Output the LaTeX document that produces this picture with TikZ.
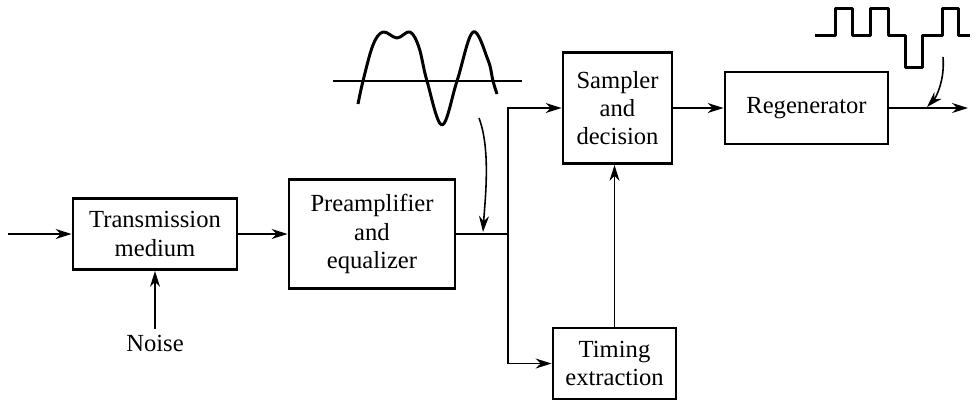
\documentclass[tikz,border=0pt]{standalone}
\usepackage{fontspec}
\setmainfont{Liberation Serif}
\usetikzlibrary{arrows.meta}

\begin{document}
\begin{tikzpicture}[
    block/.style={draw, line width=1.6pt, align=center, inner sep=2pt,
                  font=\fontsize{14}{16}\selectfont},
    link/.style={line width=0.9pt, -{Stealth[length=3.2mm, width=2mm]}},
    wave/.style={line width=1.7pt, line join=round},
    lbl/.style={font=\fontsize{14}{16}\selectfont}
]

\useasboundingbox (0,0) rectangle (19.46,-8.04);

% Blocks
\node[block, minimum width=3.28cm, minimum height=1.42cm] (medium) at (3.10,-4.68) {Transmission\\medium};
\node[block, minimum width=3.32cm, minimum height=2.18cm] (preamp) at (7.44,-4.68) {Preamplifier\\and\\equalizer};
\node[block, minimum width=2.18cm, minimum height=2.22cm] (sampler) at (12.35,-2.16) {Sampler\\and\\decision};
\node[block, minimum width=3.26cm, minimum height=1.44cm] (regen) at (16.13,-2.16) {Regenerator};
\node[block, minimum width=2.46cm, minimum height=1.42cm] (timing) at (12.29,-7.27) {Timing\\extraction};

% Noise
\node[lbl] (noise) at (3.10,-6.86) {Noise};

% Free ends
\coordinate (input) at (0.16,-4.68);
\coordinate (split) at (10.16,-4.68);
\coordinate (output) at (19.36,-2.16);

% Connectors
\draw[link] (input) -- (medium);
\draw[link] (noise.north) -- (medium.south);
\draw[link] (medium) -- (preamp);
\draw[line width=0.9pt] (preamp.east) -- (split);
\draw[link] (split) |- (sampler.west);
\draw[link] (split) |- (timing.west);
\draw[link] (timing.north) -- (timing.north |- sampler.south);
\draw[link] (sampler.east) -- (regen.west |- sampler.east);
\draw[link] (regen.east) -- (output);

% Received waveform
\draw[line width=0.9pt] (6.66,-1.62) -- (10.44,-1.62);
\draw[wave] plot[smooth, tension=0.6] coordinates {
    (7.16,-2.08) (7.26,-1.62) (7.46,-0.90) (7.66,-0.64) (7.94,-0.76)
    (8.20,-0.64) (8.38,-0.95) (8.54,-1.62) (8.84,-2.50) (9.14,-1.62)
    (9.46,-0.64) (9.76,-1.20) (9.86,-1.62) (9.94,-1.88)};
\coordinate (rxtail) at (9.58,-2.36);
\coordinate (rxhead) at (9.66,-4.64);
\draw[link] (rxtail) .. controls (9.82,-3.0) and (9.70,-4.0) .. (rxhead);

% Regenerated pulses
\draw[wave] (16.30,-0.70) -- (16.70,-0.70) -- (16.70,-0.16) -- (17.04,-0.16)
    -- (17.04,-0.70) -- (17.40,-0.70) -- (17.40,-0.16) -- (17.76,-0.16)
    -- (17.76,-0.70) -- (18.10,-0.70) -- (18.10,-1.34) -- (18.44,-1.34)
    -- (18.44,-0.70) -- (18.84,-0.70) -- (18.84,-0.16) -- (19.16,-0.16)
    -- (19.16,-0.70) -- (19.40,-0.70);
\coordinate (txtail) at (18.86,-1.14);
\coordinate (txhead) at (18.54,-2.14);
\draw[link] (txtail) .. controls (18.90,-1.60) and (18.72,-1.95) .. (txhead);

\end{tikzpicture}
\end{document}
